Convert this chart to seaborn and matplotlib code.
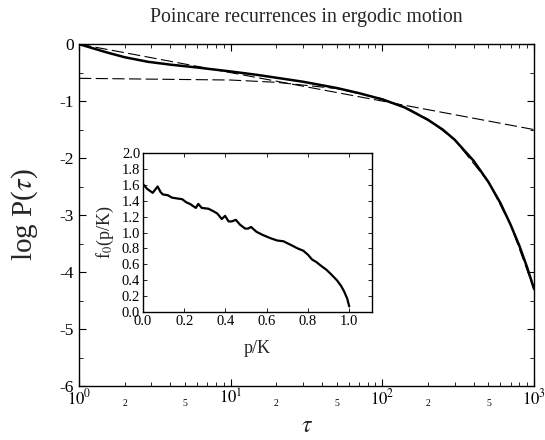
import numpy as np
import pandas as pd
import seaborn as sns
import matplotlib
matplotlib.use("Agg")
import matplotlib.pyplot as plt
from matplotlib.ticker import MultipleLocator, FixedLocator, FixedFormatter

# main panel: log10 P(tau) vs tau
tau = [1, 1.5, 2, 2.85, 4, 6, 10, 15, 20, 30, 50, 70, 100, 140, 200, 250, 300,
       400, 500, 600, 700, 800, 900, 1000]
log_p = [0.0, -0.14, -0.23, -0.31, -0.36, -0.41, -0.48, -0.54, -0.59, -0.66,
         -0.77, -0.86, -0.97, -1.11, -1.33, -1.50, -1.68, -2.05, -2.42, -2.79,
         -3.17, -3.54, -3.92, -4.30]

# dashed fits
fit1_tau = [1, 1000]
fit1_logp = [0.0, -1.5]
fit2_tau = [1, 10, 20, 50, 100, 150, 200, 300, 500, 700, 1000]
fit2_logp = [-0.60, -0.63, -0.67, -0.78, -0.96, -1.14, -1.32, -1.68, -2.42, -3.17, -4.30]

# inset: f0(p/K)
pk = [0.0, 0.02, 0.047, 0.071, 0.085, 0.096, 0.12, 0.14, 0.163, 0.19, 0.21,
      0.228, 0.256, 0.268, 0.285, 0.317, 0.34, 0.36, 0.382, 0.398, 0.415, 0.43,
      0.45, 0.47, 0.495, 0.51, 0.524, 0.55, 0.58, 0.617, 0.65, 0.681, 0.72,
      0.75, 0.778, 0.80, 0.82, 0.84, 0.859, 0.89, 0.91, 0.94, 0.96, 0.975,
      0.99, 1.0]
f0 = [1.61, 1.55, 1.50, 1.58, 1.51, 1.48, 1.47, 1.44, 1.43, 1.42, 1.38,
      1.36, 1.31, 1.36, 1.31, 1.30, 1.27, 1.24, 1.17, 1.21, 1.14, 1.14,
      1.16, 1.10, 1.05, 1.05, 1.07, 1.01, 0.97, 0.93, 0.90, 0.89, 0.84,
      0.80, 0.77, 0.72, 0.66, 0.63, 0.59, 0.53, 0.48, 0.40, 0.33, 0.26,
      0.17, 0.07]

sns.set_style("ticks")
plt.rcParams["font.family"] = ["Liberation Serif", "DejaVu Serif"]
plt.rcParams["mathtext.fontset"] = "stix"
plt.rcParams["axes.unicode_minus"] = False

fig = plt.figure(figsize=(5.45, 4.4), dpi=100)
ax = fig.add_axes([0.145, 0.1227, 0.835, 0.777])

main = pd.DataFrame({"tau": tau, "logp": log_p})
f1 = pd.DataFrame({"tau": fit1_tau, "logp": fit1_logp})
f2 = pd.DataFrame({"tau": fit2_tau, "logp": fit2_logp})

sns.lineplot(data=f1, x="tau", y="logp", ax=ax, color="black", linewidth=0.8,
             linestyle=(0, (11, 4)))
sns.lineplot(data=f2, x="tau", y="logp", ax=ax, color="black", linewidth=0.8,
             linestyle=(0, (11, 4)))
sns.lineplot(data=main, x="tau", y="logp", ax=ax, color="black", linewidth=1.8)

ax.set_xscale("log")
ax.set_xlim(1, 1000)
ax.set_ylim(-6, 0)
ax.yaxis.set_minor_locator(MultipleLocator(0.5))
ax.set_yticks([0, -1, -2, -3, -4, -5, -6], ["0", "-1", "-2", "-3", "-4", "-5", "-6"])
ax.set_xticks([1, 10, 100, 1000], [r"$10^0$", r"$10^1$", r"$10^2$", r"$10^3$"])

minor_pos, minor_lab = [], []
for dec in [1, 10, 100]:
    for m in range(2, 10):
        minor_pos.append(m * dec)
        minor_lab.append(str(m) if m in (2, 5) else "")
ax.xaxis.set_minor_locator(FixedLocator(minor_pos))
ax.xaxis.set_minor_formatter(FixedFormatter(minor_lab))

ax.tick_params(which="both", direction="in", top=True, right=True, colors="black")
ax.tick_params(which="major", length=5, width=0.8, labelsize=12.5)
ax.tick_params(which="minor", length=3, width=0.6)
ax.tick_params(axis="x", which="minor", labelsize=7, pad=9)
ax.tick_params(axis="x", which="major", labelsize=12, pad=2)
for s in ax.spines.values():
    s.set_visible(True)
    s.set_color("black")
    s.set_linewidth(1.0)

ax.set_title("Poincare recurrences in ergodic motion", fontsize=14.3, pad=16)
ax.set_xlabel(r"$\tau$", fontsize=17, labelpad=5)
ax.set_ylabel(r"log P($\tau$)", fontsize=21, labelpad=14)

# inset
ins = fig.add_axes([0.2624, 0.291, 0.420, 0.361])
inset = pd.DataFrame({"pk": pk, "f0": f0})
sns.lineplot(data=inset, x="pk", y="f0", ax=ins, color="black", linewidth=1.6, sort=False)
ins.set_xlim(0, 1.11)
ins.set_ylim(0, 2.0)
ins.set_xticks([0.0, 0.2, 0.4, 0.6, 0.8, 1.0], ["0.0", "0.2", "0.4", "0.6", "0.8", "1.0"])
ins.set_yticks([0.0, 0.2, 0.4, 0.6, 0.8, 1.0, 1.2, 1.4, 1.6, 1.8, 2.0],
               ["0.0", "0.2", "0.4", "0.6", "0.8", "1.0", "1.2", "1.4", "1.6", "1.8", "2.0"])
ins.tick_params(which="both", direction="in", top=True, right=True, colors="black",
                labelsize=10.5, pad=2)
ins.tick_params(which="major", length=3, width=0.6)
ins.tick_params(which="minor", length=0)
for s in ins.spines.values():
    s.set_visible(True)
    s.set_color("black")
    s.set_linewidth(1.0)
ins.set_xlabel("p/K", fontsize=13, labelpad=9)
ins.set_ylabel(r"f$_0$(p/K)", fontsize=13, labelpad=4)

fig.savefig("out.png", dpi=100)
